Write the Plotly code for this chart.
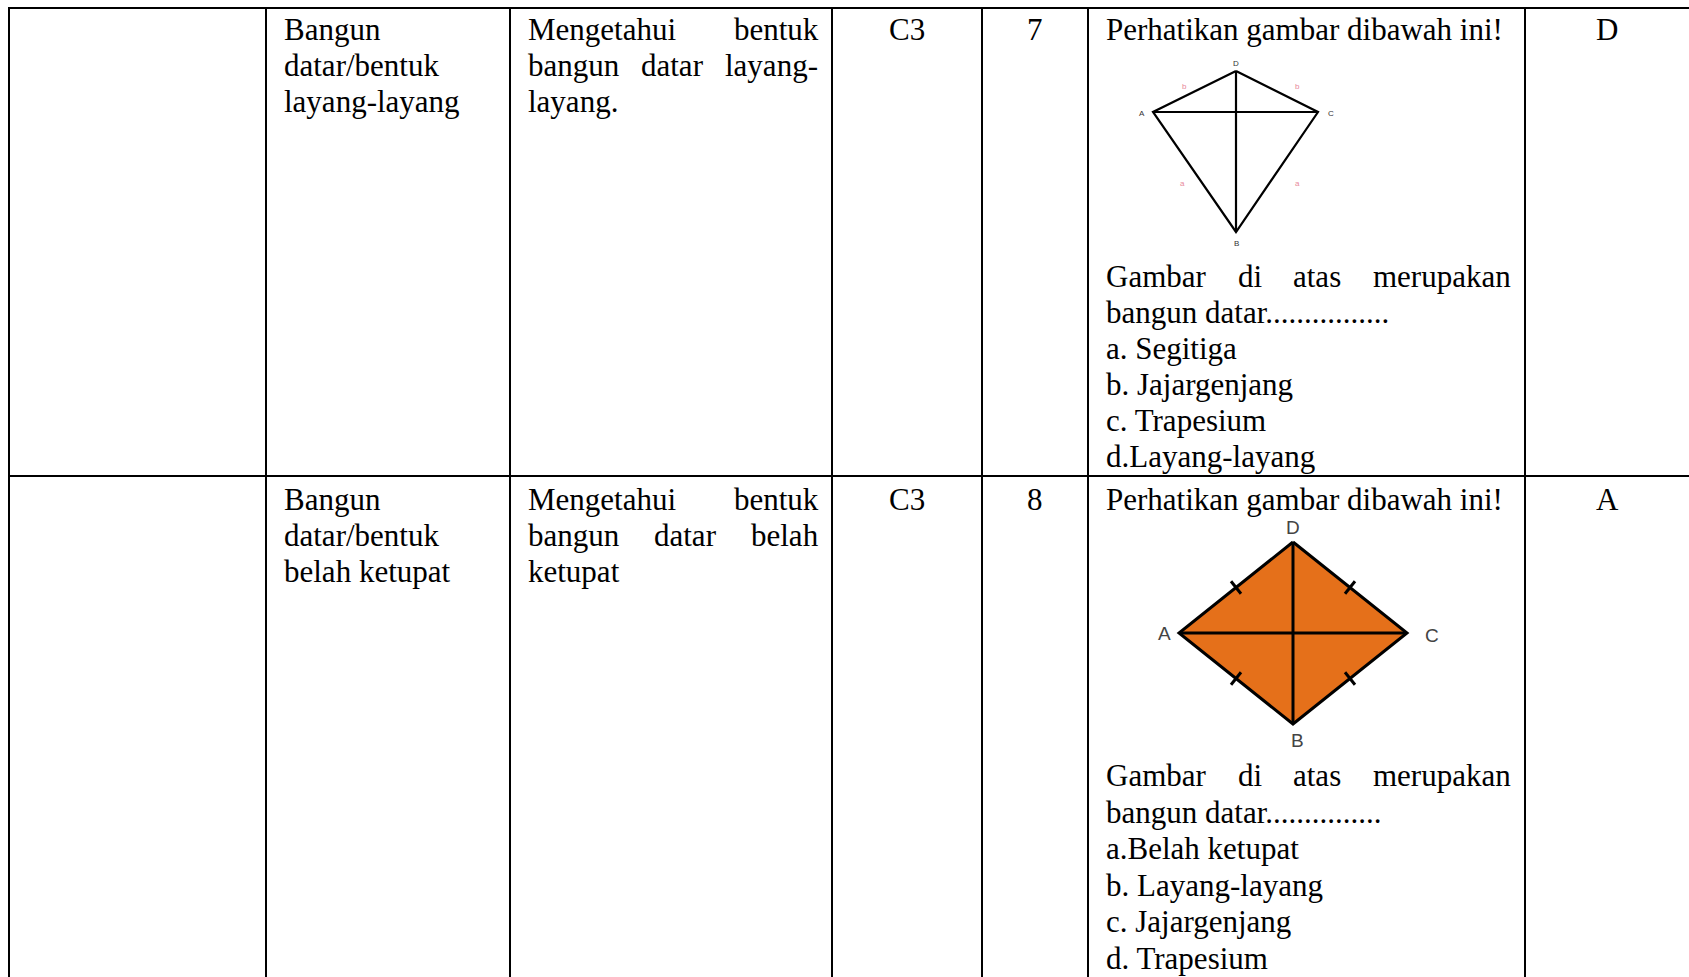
import plotly.graph_objects as go

W, H = 1689, 977

# table grid (pixel positions of the ruled lines)
col_edges = [9, 266, 510, 832, 982, 1088, 1525, 1689]
row_edges = [8, 476, 977]

# row 1 content
topic_1 = ["Bangun", "datar/bentuk", "layang-layang"]
indicator_1 = ["Mengetahui bentuk", "bangun datar layang-", "layang."]
level_1 = "C3"
number_1 = "7"
question_1_top = ["Perhatikan gambar dibawah ini!"]
question_1_bottom = ["Gambar di atas merupakan", "bangun datar................",
                     "a. Segitiga", "b. Jajargenjang", "c. Trapesium", "d.Layang-layang"]
key_1 = "D"

# row 2 content
topic_2 = ["Bangun", "datar/bentuk", "belah ketupat"]
indicator_2 = ["Mengetahui bentuk", "bangun datar belah", "ketupat"]
level_2 = "C3"
number_2 = "8"
question_2_top = ["Perhatikan gambar dibawah ini!"]
question_2_bottom = ["Gambar di atas merupakan", "bangun datar...............",
                     "a.Belah ketupat", "b. Layang-layang", "c. Jajargenjang", "d. Trapesium"]
key_2 = "A"

# kite figure (vertices D, C, B, A)
kite_names = ["D", "C", "B", "A"]
kite_x = [1236, 1318, 1236, 1153]
kite_y = [71, 112, 232, 112]
kite_side_labels = ["b", "b", "a", "a"]
kite_side_x = [1184, 1297, 1182, 1297]
kite_side_y = [86, 86, 183, 183]

# rhombus figure (vertices D, C, B, A)
rhomb_names = ["D", "C", "B", "A"]
rhomb_x = [1293, 1407, 1293, 1179]
rhomb_y = [542, 633, 724, 633]

FS = 31
LH = 36
PAD = 16
SERIF = "Liberation Serif, Times New Roman, serif"

# Times advance widths (1/1000 em) for justified lines
TIMES = {"M": 889, "e": 444, "n": 500, "g": 500, "t": 278, "a": 444, "h": 500,
         "u": 500, "i": 278, "b": 500, "k": 500, "d": 500, "r": 333, "l": 278,
         "y": 500, "-": 333, "G": 722, "m": 778, "p": 500, "s": 389, " ": 250}


def text_w(s):
    return sum(TIMES.get(c, 500) for c in s) / 1000 * FS


annotations = []


def add_text(x, baseline, text, anchor="left", size=FS, family=SERIF, color="black"):
    annotations.append(dict(x=x, y=baseline - 0.34 * size, text=text, showarrow=False,
                            xanchor=anchor, yanchor="middle", xref="x", yref="y",
                            font=dict(family=family, size=size, color=color)))


def add_lines(col, first_baseline, lines, justify_all_but_last=False, justify=None, lh=LH):
    left = col_edges[col] + PAD
    right = col_edges[col + 1] - PAD
    for i, line in enumerate(lines):
        b = first_baseline + i * lh
        do_just = justify[i] if justify is not None else (justify_all_but_last and i < len(lines) - 1)
        words = line.split(" ")
        if do_just and len(words) > 1:
            total = sum(text_w(w) for w in words)
            gap = (right - left - total) / (len(words) - 1)
            x = left
            for w in words:
                add_text(x, b, w)
                x += text_w(w) + gap
        else:
            add_text(left, b, line)


def add_center(col, baseline, text):
    add_text((col_edges[col] + col_edges[col + 1]) / 2, baseline, text, anchor="center")


r1 = row_edges[0] + 32
r2 = row_edges[1] + 34

add_lines(1, r1, topic_1)
add_lines(2, r1, indicator_1, justify_all_but_last=True)
add_center(3, r1, level_1)
add_center(4, r1, number_1)
add_lines(5, r1, question_1_top)
add_lines(5, 287, question_1_bottom, justify=[True] + [False] * 5)
add_center(6, r1, key_1)

add_lines(1, r2, topic_2)
add_lines(2, r2, indicator_2, justify_all_but_last=True)
add_center(3, r2, level_2)
add_center(4, r2, number_2)
add_lines(5, r2, question_2_top)
add_lines(5, 786, question_2_bottom, justify=[True] + [False] * 5, lh=36.6)
add_center(6, r2, key_2)

fig = go.Figure()

# kite outline and diagonals
fig.add_trace(go.Scatter(x=kite_x + [kite_x[0]], y=kite_y + [kite_y[0]], mode="lines",
                         line=dict(color="black", width=2.2), hoverinfo="skip"))
fig.add_trace(go.Scatter(x=[kite_x[0], kite_x[2]], y=[kite_y[0], kite_y[2]], mode="lines",
                         line=dict(color="black", width=2.2), hoverinfo="skip"))
fig.add_trace(go.Scatter(x=[kite_x[3], kite_x[1]], y=[kite_y[3], kite_y[1]], mode="lines",
                         line=dict(color="black", width=2.2), hoverinfo="skip"))

kite_off = [(0, -8), (13, 1), (0, 11), (-11, 1)]
for n, x, y, (dx, dy) in zip(kite_names, kite_x, kite_y, kite_off):
    annotations.append(dict(x=x + dx, y=y + dy, text=n, showarrow=False, xref="x", yref="y",
                            font=dict(family="Liberation Sans, Arial", size=8, color="#333")))
for t, x, y in zip(kite_side_labels, kite_side_x, kite_side_y):
    annotations.append(dict(x=x, y=y, text=t, showarrow=False, xref="x", yref="y",
                            font=dict(family="Liberation Sans, Arial", size=8, color="#e8899a")))

# rhombus filled with diagonals and equal-side ticks
fig.add_trace(go.Scatter(x=rhomb_x + [rhomb_x[0]], y=rhomb_y + [rhomb_y[0]], mode="lines",
                         fill="toself", fillcolor="#e5701a",
                         line=dict(color="black", width=3), hoverinfo="skip"))
fig.add_trace(go.Scatter(x=[rhomb_x[0], rhomb_x[2]], y=[rhomb_y[0], rhomb_y[2]], mode="lines",
                         line=dict(color="black", width=3), hoverinfo="skip"))
fig.add_trace(go.Scatter(x=[rhomb_x[3], rhomb_x[1]], y=[rhomb_y[3], rhomb_y[1]], mode="lines",
                         line=dict(color="black", width=3), hoverinfo="skip"))
for i in range(4):
    x0, y0 = rhomb_x[i], rhomb_y[i]
    x1, y1 = rhomb_x[(i + 1) % 4], rhomb_y[(i + 1) % 4]
    mx, my = (x0 + x1) / 2, (y0 + y1) / 2
    dx, dy = x1 - x0, y1 - y0
    ln = (dx * dx + dy * dy) ** 0.5
    px, py = -dy / ln * 8, dx / ln * 8
    fig.add_trace(go.Scatter(x=[mx - px, mx + px], y=[my - py, my + py], mode="lines",
                             line=dict(color="black", width=3), hoverinfo="skip"))

rhomb_off = [(0, -15), (25, 2), (4, 16), (-15, 0)]
for n, x, y, (dx, dy) in zip(rhomb_names, rhomb_x, rhomb_y, rhomb_off):
    annotations.append(dict(x=x + dx, y=y + dy, text=n, showarrow=False, xref="x", yref="y",
                            font=dict(family="Liberation Sans, Arial", size=19, color="#444")))

# table rules
shapes = []
for x in col_edges[:-1]:
    shapes.append(dict(type="line", xref="x", yref="y", x0=x, x1=x, y0=row_edges[0], y1=H,
                       line=dict(color="black", width=2)))
for y in row_edges[:-1]:
    shapes.append(dict(type="line", xref="x", yref="y", x0=col_edges[0] - 1, x1=W, y0=y, y1=y,
                       line=dict(color="black", width=2)))

fig.update_layout(
    width=W, height=H,
    margin=dict(l=0, r=0, t=0, b=0),
    paper_bgcolor="white", plot_bgcolor="white",
    showlegend=False,
    xaxis=dict(range=[0, W], visible=False, fixedrange=True),
    yaxis=dict(range=[H, 0], visible=False, fixedrange=True),
    shapes=shapes,
    annotations=annotations,
)

fig.write_html("out.html", config={"displayModeBar": False},
               post_script="document.body.style.margin='0';")
